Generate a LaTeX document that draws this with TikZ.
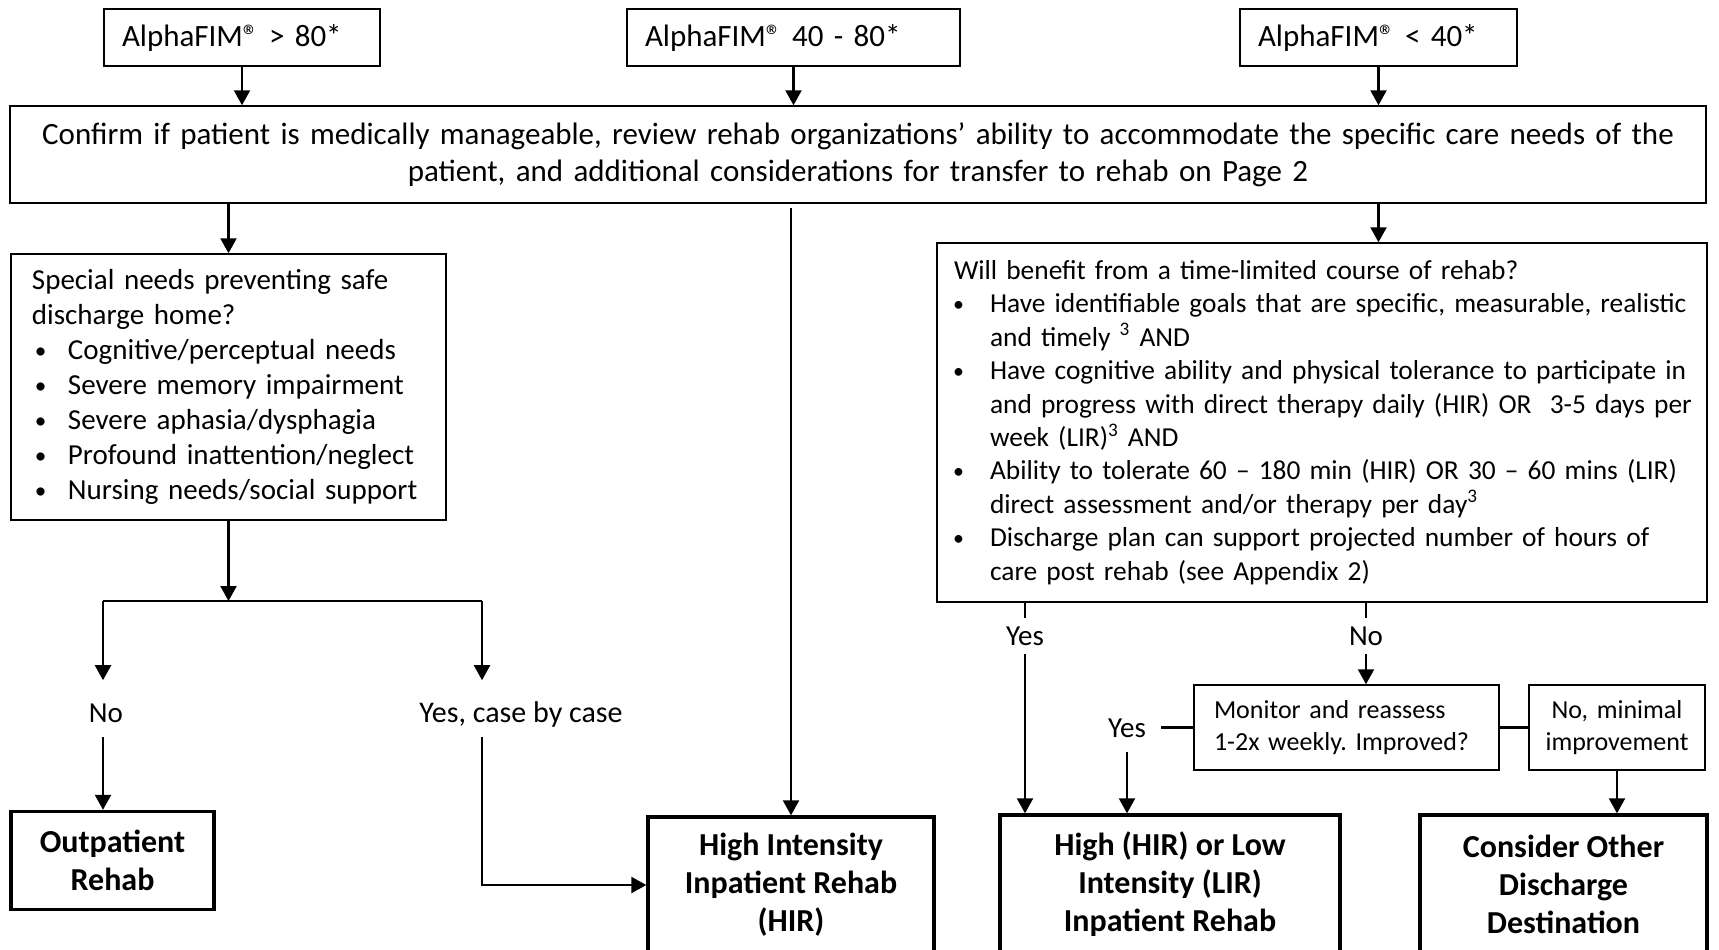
\documentclass[tikz,border=0pt]{standalone}
\usepackage{fontspec}
\setmainfont{Carlito}
\usetikzlibrary{arrows.meta}
\frenchspacing
\hyphenpenalty=10000

\newcommand{\bitem}[1]{\par\hangindent=18pt\hangafter=1\noindent\makebox[18pt][l]{\hspace{1.5pt}\raisebox{0.1ex}{\scalebox{0.8}{\textbullet}}}#1\par}

\begin{document}
\begin{tikzpicture}[x=0.5pt,y=-0.5pt,
    box/.style={draw, line width=0.75pt, align=left, inner xsep=9pt,
      font=\fontsize{14.5}{17.5}\selectfont},
    fim/.style={box, minimum height=28.5pt, font=\fontsize{15.5}{18.5}\selectfont},
    small/.style={font=\fontsize{13}{16.2}\selectfont},
    endbox/.style={draw, line width=1.7pt, align=center,
      font=\bfseries\fontsize{16}{19}\selectfont},
    lbl/.style={inner xsep=7.5pt, inner ysep=0pt, text height=20.7pt, text depth=7.3pt,
      font=\fontsize{14.5}{17.5}\selectfont},
    short/.style={text height=13.2pt, text depth=4.3pt},
    ln/.style={line width=1.1pt},
    arr/.style={ln, -{Triangle[length=7.5pt,width=8pt]}}]
  \useasboundingbox (0,0) rectangle (1719,949);

  % scores
  \node[fim, text width=120pt] (fimhi) at (242,37.5) {AlphaFIM® > 80*};
  \node[fim, text width=148.5pt] (fimmid) at (793.5,37.5) {AlphaFIM® 40 - 80*};
  \node[fim, text width=120.5pt] (fimlo) at (1378.5,37.5) {AlphaFIM® < 40*};

  \node[box, align=center, text width=830pt, minimum height=48.5pt,
        font=\fontsize{15.5}{18.5}\selectfont] (confirm) at (858,154.5)
    {Confirm if patient is medically manageable, review rehab organizations' ability to accommodate the specific care needs of the\\
     patient, and additional considerations for transfer to rehab on Page 2};

  % questions
  \node[box, inner xsep=10.5pt, text width=196.5pt, minimum height=133pt] (needs) at (228.5,387)
    {Special needs preventing safe\\ discharge home?
     \bitem{Cognitive/perceptual needs}
     \bitem{Severe memory impairment}
     \bitem{Severe aphasia/dysphagia}
     \bitem{Profound inattention/neglect}
     \bitem{Nursing needs/social support}};
  \node[box, inner xsep=6.5pt, text width=372pt, minimum height=179.5pt,
        font=\fontsize{13.7}{16.7}\selectfont] (benefit) at (1322,422.5)
    {\hspace{2pt}Will benefit from a time-limited course of rehab?
     \bitem{\hspace{2pt}Have identifiable goals that are specific, measurable, realistic\newline \hspace*{2pt}and timely \textsuperscript{3} AND}
     \bitem{\hspace{2pt}Have cognitive ability and physical tolerance to participate in\newline \hspace*{2pt}and progress with direct therapy daily (HIR) OR\ \ 3-5 days per\newline \hspace*{2pt}week (LIR)\textsuperscript{3} AND}
     \bitem{\hspace{2pt}Ability to tolerate 60 -- 180 min (HIR) OR 30 -- 60 mins (LIR)\newline \hspace*{2pt}direct assessment and/or therapy per day\textsuperscript{3}}
     \bitem{\hspace{2pt}Discharge plan can support projected number of hours of\newline \hspace*{2pt}care post rehab (see Appendix 2)}};
  \node[box, small, inner xsep=10pt, text width=132.5pt, minimum height=42.5pt] (monitor) at (1346.5,727.5)
    {Monitor and reassess\\ 1-2x weekly. Improved?};
  \node[box, small, align=center, inner xsep=6pt, text width=76pt, minimum height=42.5pt] (nomin) at (1617,727.5)
    {No, minimal\\ improvement};

  % outcomes
  \node[endbox, minimum width=101.5pt, minimum height=49pt] (outp) at (112.5,860.5) {Outpatient\\ Rehab};
  \node[endbox, minimum width=143pt, minimum height=68pt] (hir) at (791,885)
    {High Intensity\\ Inpatient Rehab\\ (HIR)};
  \node[endbox, minimum width=170pt, minimum height=69pt] (hilo) at (1170,884)
    {High (HIR) or Low\\ Intensity (LIR)\\ Inpatient Rehab};
  \node[endbox, minimum width=143.5pt, minimum height=69pt] (other) at (1563.5,884)
    {Consider Other\\ Discharge\\ Destination};

  % labels
  \node[lbl, anchor=base] (noA) at (106,722) {No};
  \node[lbl, anchor=base, font=\fontsize{15}{18}\selectfont] (yesB) at (521,722) {Yes, case by case};
  \node[lbl, short, anchor=base] (yesC) at (1025,645) {Yes};
  \node[lbl, short, anchor=base] (noC) at (1366,645) {No};
  \node[lbl, anchor=base] (yesD) at (1127,737) {Yes};

  \coordinate (forkL) at (103,601);
  \coordinate (forkR) at (482,601);

  \draw[arr] (fimhi.south) -- (fimhi.south |- confirm.north);
  \draw[arr] (fimmid.south) -- (fimmid.south |- confirm.north);
  \draw[arr] (fimlo.south) -- (fimlo.south |- confirm.north);
  \draw[arr] (confirm.south -| needs.north) -- (needs.north);
  \draw[arr, shorten <=2pt] (confirm.south -| hir.north) -- (hir.north);
  \draw[arr] (confirm.south -| fimlo.south) -- (fimlo.south |- benefit.north);

  \draw[arr] (needs.south) -- (needs.south |- forkL);
  \draw[ln] (forkL) -- (forkR);
  \draw[arr] (forkL) -- (forkL |- noA.north);
  \draw[arr] (forkR) -- (forkR |- yesB.north);
  \draw[arr] (forkL |- noA.south) -- (forkL |- outp.north);
  \draw[arr] (forkR |- yesB.south) |- (hir.west);

  \draw[ln] (benefit.south -| yesC.north) -- (yesC.north);
  \draw[arr] (yesC.south) -- (yesC.south |- hilo.north);
  \draw[ln] (benefit.south -| noC.north) -- (noC.north);
  \draw[arr] (noC.south) -- (noC.south |- monitor.north);
  \draw[ln] (monitor.west) -- (monitor.west -| yesD.east);
  \draw[arr] (yesD.south) -- (yesD.south |- hilo.north);
  \draw[ln] (monitor.east) -- (nomin.west);
  \draw[arr] (nomin.south) -- (nomin.south |- other.north);
\end{tikzpicture}
\end{document}
